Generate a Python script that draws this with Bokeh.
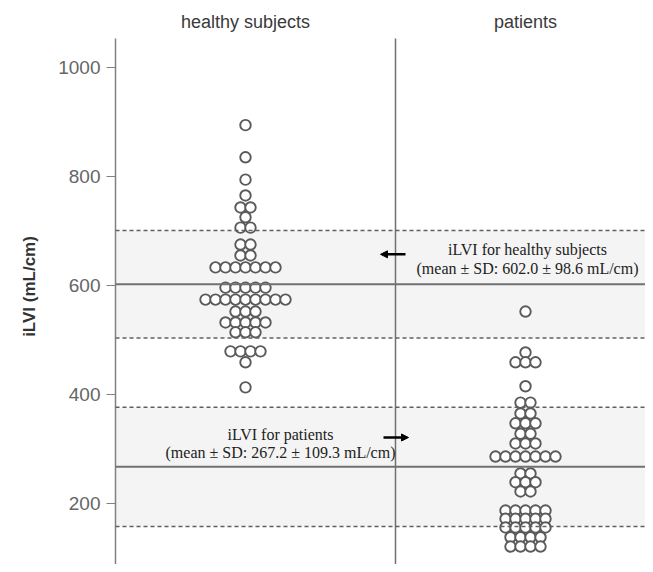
from collections import Counter
from bokeh.plotting import figure
from bokeh.models import Range1d, FixedTicker, BoxAnnotation, Span, Arrow, NormalHead
from bokeh.core.properties import value
from bokeh.embed import file_html
from bokeh.resources import INLINE

# ---- data ----
groups = ["healthy subjects", "patients"]
healthy_values = [894, 835, 794, 765, 743, 743, 725, 706, 706, 675, 675, 655, 655,
                  633, 633, 633, 633, 633, 633, 633,
                  596, 596, 596, 596, 596,
                  574, 574, 574, 574, 574, 574, 574, 574, 574,
                  552, 552, 552,
                  532, 532, 532, 532, 532,
                  514, 514, 514,
                  479, 479, 479, 479,
                  459, 413]
patient_values = [552, 477, 459, 459, 459, 415, 385, 385, 365, 365,
                  347, 347, 347, 328, 328, 310, 310, 310,
                  286, 286, 286, 286, 286, 286, 286,
                  255, 255, 239, 239, 239, 222, 222,
                  187, 187, 187, 187, 187,
                  172, 172, 172, 172, 172,
                  156, 156, 156, 156, 156,
                  138, 138, 138, 138,
                  121, 121, 121, 121]
healthy_mean, healthy_sd = 602.0, 98.6
patient_mean, patient_sd = 267.2, 109.3
y_ticks = [200, 400, 600, 800, 1000]
y_title = "iLVI (mL/cm)"
healthy_note = ["iLVI for healthy subjects", "(mean \u00b1 SD: 602.0 \u00b1 98.6 mL/cm)"]
patient_note = ["iLVI for patients", "(mean \u00b1 SD: 267.2 \u00b1 109.3 mL/cm)"]

# ---- layout (x in pixel-like units from the frame's left edge) ----
centers = [130, 410]
divider_x = 280
spacing = 10
y_lo, y_hi = 88, 1108
axis_top = 1053

p = figure(width=645, height=564, output_backend="svg", toolbar_location=None,
           x_range=Range1d(0, 530), y_range=Range1d(y_lo, y_hi),
           min_border_left=115, min_border_right=0, min_border_top=8, min_border_bottom=0)
p.xaxis.visible = False
p.xgrid.visible = False
p.ygrid.visible = False
p.outline_line_color = None
p.background_fill_color = "white"

# bands
for m, s in [(healthy_mean, healthy_sd), (patient_mean, patient_sd)]:
    p.add_layout(BoxAnnotation(bottom=m - s, top=m + s, fill_color="#f4f4f4", fill_alpha=1.0,
                               line_color=None, level="underlay"))
    p.add_layout(Span(location=m, dimension="width", line_color="#707070", line_width=2))
    for loc in (m - s, m + s):
        p.add_layout(Span(location=loc, dimension="width", line_color="#606060",
                          line_width=1.5, line_dash="4 3"))

# divider
p.segment(x0=[divider_x], y0=[y_lo], x1=[divider_x], y1=[axis_top], line_color="#707070", line_width=1.5)

# dots
def stack(vals, cx):
    xs, ys = [], []
    cnt = Counter(vals)
    for v, n in cnt.items():
        for i in range(n):
            xs.append(cx + (i - (n - 1) / 2) * spacing)
            ys.append(v)
    return xs, ys

for vals, cx in [(healthy_values, centers[0]), (patient_values, centers[1])]:
    xs, ys = stack(vals, cx)
    p.scatter(x=xs, y=ys, marker="circle", size=10.5, fill_color="white",
              line_color="#5a5a5a", line_width=1.9)

# group titles
p.text(x=centers, y=[1083, 1083], text=groups, text_align="center", text_baseline="middle",
       text_font=value("Liberation Sans"), text_font_size="18px", text_color="#3a3a3a")

# annotations
p.text(x=[412, 412], y=[666, 631], text=healthy_note, text_align="center", text_baseline="middle",
       text_font=value("Liberation Serif"), text_font_size="16px", text_color="#222222")
p.text(x=[165, 165], y=[327, 294], text=patient_note, text_align="center", text_baseline="middle",
       text_font=value("Liberation Serif"), text_font_size="16px", text_color="#222222")
p.add_layout(Arrow(end=NormalHead(size=7, fill_color="black", line_color="black"),
                   x_start=290, y_start=657, x_end=265, y_end=657, line_width=2.5, line_color="black"))
p.add_layout(Arrow(end=NormalHead(size=7, fill_color="black", line_color="black"),
                   x_start=268, y_start=321, x_end=293, y_end=321, line_width=2.5, line_color="black"))

# y axis
ax = p.yaxis[0]
ax.ticker = FixedTicker(ticks=y_ticks)
ax.bounds = (y_lo, axis_top)
ax.axis_line_color = "#808080"
ax.axis_line_width = 1.5
ax.major_tick_line_color = "#808080"
ax.major_tick_out = 9
ax.major_tick_in = 0
ax.minor_tick_line_color = None
ax.major_label_text_font = "Liberation Sans"
ax.major_label_text_font_size = "19px"
ax.major_label_text_color = "#666666"
ax.major_label_standoff = 6
ax.axis_label = y_title
ax.axis_label_text_font = "Liberation Sans"
ax.axis_label_text_font_style = "bold"
ax.axis_label_text_font_size = "17px"
ax.axis_label_text_color = "#333333"
ax.axis_label_standoff = 16

open("out.html", "w").write(file_html(p, INLINE))
